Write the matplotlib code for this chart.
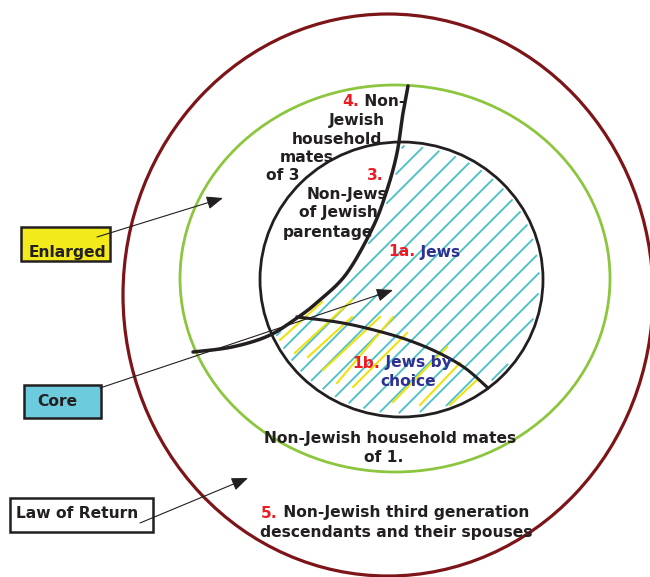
import numpy as np
import matplotlib.pyplot as plt
from matplotlib.patches import Ellipse, Rectangle

# rings: Law of Return / Enlarged / Core (centre, half width, half height in px)
ring_cx = [388, 395, 401.5]
ring_cy = [295, 278.5, 279.5]
ring_a = [265, 215, 141.5]
ring_b = [281, 193.5, 137.5]
ring_col = ['#7d1518', '#8cc63f', '#231f20']
ring_lw = [2.3, 2.0, 2.0]

# boundary curve between "3." and "1a." and the "1b." curve
curve_a_x = [408, 403, 397, 387, 373, 347, 320, 297, 268, 232, 193]
curve_a_y = [86, 113, 153, 190, 227, 273, 300, 318, 336, 347, 352]
curve_b_x = [297, 337, 370, 405, 437, 465, 488]
curve_b_y = [317, 322, 329, 339, 352, 368, 388]

# hatch lines (x + y = c) and the yellow strokes
cyan_c = [550, 570, 590, 612, 632, 652, 672, 692, 712, 732, 752, 772, 792, 812, 832, 852, 872]
yellow_x0 = [280, 295, 308, 323, 337, 353, 393, 420, 450]
yellow_y0 = [340, 353, 357, 370, 383, 387, 402, 405, 405]
yellow_x1 = [322, 352, 352, 380, 393, 407, 447, 460, 477]
yellow_y1 = [302, 300, 317, 317, 317, 333, 347, 363, 380]

# label boxes
box_text = ['Enlarged', 'Core', 'Law of Return']
box_col = ['#f2ea1b', '#6ccbdc', '#ffffff']
box_x = [21, 24, 10]
box_y = [227, 385, 498]
box_w = [89, 77, 143]
box_h = [34, 33, 34]
box_tx = [29, 37, 16]
box_ty = [253, 401, 514]
arrow_tail = [(97, 237), (100, 388), (140, 523)]
arrow_head = [(223, 198), (393, 290), (248, 478)]

DARK = '#231f20'
RED = '#ed1c24'
NAVY = '#2e3192'
FS = 11.2


def catmull(xs, ys, n=30):
    p = np.column_stack([xs, ys]).astype(float)
    p = np.vstack([p[0], p, p[-1]])
    out = []
    for i in range(1, len(p) - 2):
        p0, p1, p2, p3 = p[i - 1], p[i], p[i + 1], p[i + 2]
        t = np.linspace(0, 1, n)[:, None]
        out.append(0.5 * ((2 * p1) + (-p0 + p2) * t + (2 * p0 - 5 * p1 + 4 * p2 - p3) * t ** 2
                          + (-p0 + 3 * p1 - 3 * p2 + p3) * t ** 3))
    out = np.vstack(out)
    return out[:, 0], out[:, 1]


fig = plt.figure(figsize=(6.5, 5.77), dpi=100)
ax = fig.add_axes([0, 0, 1, 1])
ax.set_xlim(0, 650)
ax.set_ylim(577, 0)
ax.axis('off')

for cx, cy, a, b, c, lw in zip(ring_cx, ring_cy, ring_a, ring_b, ring_col, ring_lw):
    ax.add_patch(Ellipse((cx, cy), 2 * a, 2 * b, fill=False, ec=c, lw=lw, zorder=3))

ax_x, ax_y = catmull(curve_a_x, curve_a_y)
bx, by = catmull(curve_b_x, curve_b_y)

# cyan hatch, clipped to core circle minus the "3." area
ccx, ccy, ca, cb = ring_cx[2], ring_cy[2], ring_a[2], ring_b[2]
for c in cyan_c:
    xs = np.linspace(240, 560, 800)
    ys = c - xs
    inside = ((xs - ccx) / (ca - 4)) ** 2 + ((ys - ccy) / (cb - 4)) ** 2 < 1
    xa = np.interp(ys, ax_y, ax_x)
    right = (ys > 352) | (xs > xa + 4)
    m = inside & right
    ax.plot(np.where(m, xs, np.nan), np.where(m, ys, np.nan), color='#47c1c6', lw=1.3, zorder=2)

for x0, y0, x1, y1 in zip(yellow_x0, yellow_y0, yellow_x1, yellow_y1):
    ax.plot([x0, x1], [y0, y1], color='#efe20c', lw=1.5, zorder=2)

ax.plot(ax_x, ax_y, color=DARK, lw=2.5, zorder=4, solid_capstyle='round')
ax.plot(bx, by, color=DARK, lw=2.2, zorder=4)

# boxes and arrows
for t, c, x, y, w, h, tx, ty in zip(box_text, box_col, box_x, box_y, box_w, box_h, box_tx, box_ty):
    r = Rectangle((x, y), w, h, fc=c, ec='none', zorder=5)
    ax.add_patch(r)
    txt = ax.text(tx, ty, t, ha='left', va='center', fontsize=FS, fontweight='bold',
                  color=DARK, zorder=6)
    txt.set_clip_path(r)
    ax.add_patch(Rectangle((x, y), w, h, fc='none', ec=DARK, lw=1.8, zorder=7))

for tail, head in zip(arrow_tail, arrow_head):
    ax.annotate('', xy=head, xytext=tail,
                arrowprops=dict(arrowstyle='-|>,head_length=0.5,head_width=0.2', color=DARK,
                                lw=0.8, mutation_scale=20, shrinkA=0, shrinkB=0), zorder=8)


def two_tone(x, y, first, rest, c2):
    t1 = ax.text(x, y, first, ha='left', va='center', fontsize=FS, fontweight='bold',
                 color=RED, zorder=9)
    ax.annotate(' ' + rest, xy=(1, 0), xycoords=t1, ha='left', va='bottom',
                fontsize=FS, fontweight='bold', color=c2, zorder=9)


def label(x, y, s, c=DARK):
    ax.text(x, y, s, ha='center', va='center', fontsize=FS, fontweight='bold', color=c, zorder=9)


two_tone(342, 101, '4.', 'Non-', DARK)
label(357, 120, 'Jewish')
label(337, 139, 'household')
label(307, 158, 'mates')
label(283, 176, 'of 3')

label(375, 176, '3.', RED)
label(347, 195, 'Non-Jews')
label(338, 213, 'of Jewish')
label(328, 232, 'parentage')

two_tone(388, 252, '1a.', 'Jews', NAVY)
two_tone(352, 363, '1b.', 'Jews by', NAVY)
label(408, 382, 'choice', NAVY)

label(390, 438, 'Non-Jewish household mates')
label(384, 457, 'of 1.')
two_tone(261, 513, '5.', 'Non-Jewish third generation', DARK)
label(396, 532, 'descendants and their spouses')

fig.savefig('out.png', dpi=100)
